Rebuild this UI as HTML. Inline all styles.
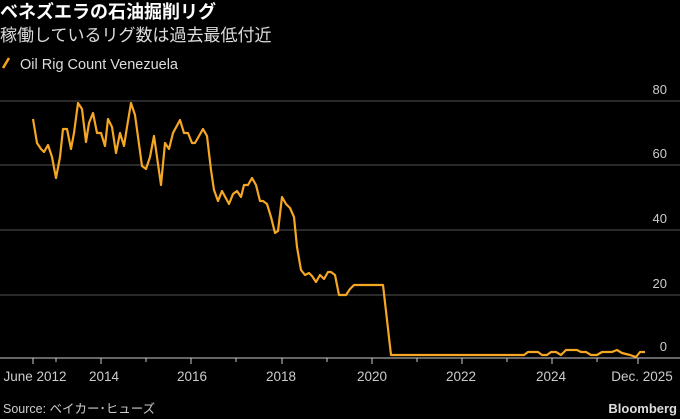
<!DOCTYPE html>
<html><head><meta charset="utf-8"><style>
html,body{margin:0;padding:0;background:#000;}
body{width:680px;height:419px;overflow:hidden;position:relative;font-family:"Liberation Sans","Noto Sans CJK JP",sans-serif;color:#fff;}
.t{position:absolute;left:0px;top:-2px;font-size:18px;font-weight:bold;font-family:"Noto Sans CJK JP",sans-serif;}
.s{position:absolute;left:0px;top:21px;font-size:17px;color:#ddd;font-family:"Noto Sans CJK JP",sans-serif;}
</style></head><body>
<div class="t">ベネズエラの石油掘削リグ</div>
<div class="s">稼働しているリグ数は過去最低付近</div>
<svg width="680" height="419" style="position:absolute;left:0;top:0" font-family="Liberation Sans, Noto Sans CJK JP, sans-serif">
<line x1="3" y1="68" x2="9" y2="58" stroke="#f5a623" stroke-width="2.5"/>
<text x="20" y="69" fill="#ddd" font-size="14.5">Oil Rig Count Venezuela</text>
<g stroke="#555" stroke-width="1">
<line x1="0" y1="101" x2="680" y2="101"/><line x1="0" y1="165" x2="680" y2="165"/>
<line x1="0" y1="230" x2="680" y2="230"/><line x1="0" y1="295" x2="680" y2="295"/>
</g>
<g fill="#ccc" font-size="13" text-anchor="end">
<text x="667" y="94">80</text><text x="667" y="158">60</text><text x="667" y="223">40</text><text x="667" y="288">20</text><text x="667" y="351">0</text>
</g>
<line x1="0" y1="358" x2="680" y2="358" stroke="#ccc" stroke-width="1"/>
<g stroke="#ccc" stroke-width="1">
<line x1="33" y1="358" x2="33" y2="364"/><line x1="56" y1="358" x2="56" y2="362"/><line x1="101" y1="358" x2="101" y2="364"/><line x1="146" y1="358" x2="146" y2="362"/><line x1="191" y1="358" x2="191" y2="364"/><line x1="236" y1="358" x2="236" y2="362"/><line x1="282" y1="358" x2="282" y2="364"/><line x1="327" y1="358" x2="327" y2="362"/><line x1="372" y1="358" x2="372" y2="364"/><line x1="417" y1="358" x2="417" y2="362"/><line x1="462" y1="358" x2="462" y2="364"/><line x1="507" y1="358" x2="507" y2="362"/><line x1="552" y1="358" x2="552" y2="364"/><line x1="597" y1="358" x2="597" y2="362"/><line x1="638" y1="358" x2="638" y2="364"/>
</g>
<g fill="#ccc" font-size="13.5" text-anchor="middle">
<text x="35" y="381">June 2012</text><text x="104" y="381">2014</text><text x="192" y="381">2016</text><text x="281" y="381">2018</text><text x="372" y="381">2020</text><text x="461" y="381">2022</text><text x="551" y="381">2024</text><text x="642" y="381">Dec. 2025</text>
</g>
<polyline fill="none" stroke="#f5a623" stroke-width="2.2" stroke-linejoin="round" points="33,119 37,143 41,149 44,152 48,145 52,157 56,178 60,157 63,129 67,129 71,149 74,133 78,103 82,109 86,142 89,123 93,113 97,133 101,133 105,146 108,119 112,127 116,153 120,133 124,146 127,127 131,103 135,115 142,166 146,169 150,157 154,136 161,185 165,143 169,149 173,133 180,120 184,133 188,133 192,143 195,143 203,129 207,136 211,170 214,190 218,201 222,191 229,204 233,194 237,191 241,197 244,185 248,185 252,178 256,185 260,201 263,201 267,204 271,217 275,233 278,231 282,197 286,204 290,208 294,217 297,247 301,270 305,275 309,273 312,276 316,282 320,275 324,279 328,272 331,272 335,275 339,295 346,295 350,289 354,285 383,285 391,355 524,355 528,352 538,352 542,355 547,355 551,352 556,352 561,355 566,350 577,350 581,352 586,352 591,355 597,355 602,352 612,352 617,350 622,353 630,355 636,357 640,352 645,352"/>
<text x="3" y="413" fill="#ccc" font-size="12.5">Source: ベイカー･ヒューズ</text>
<text x="677" y="413" fill="#ddd" font-size="13" font-weight="bold" text-anchor="end">Bloomberg</text>
</svg>
</body></html>
